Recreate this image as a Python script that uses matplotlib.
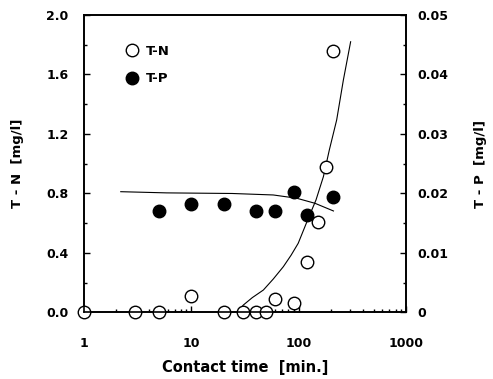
import matplotlib
matplotlib.use("Agg")
import matplotlib.pyplot as plt
from matplotlib.ticker import FixedLocator, MultipleLocator, NullFormatter, FixedFormatter
from matplotlib.lines import Line2D

plt.rcParams['font.family'] = ['DejaVu Sans']
plt.rcParams['font.weight'] = 'bold'

# data
tn_time = [1, 3, 5, 10, 20, 30, 40, 50, 60, 90, 120, 150, 180, 210]
tn_conc = [0.0, 0.0, 0.0, 0.11, 0.0, 0.0, 0.0, 0.0, 0.09, 0.066, 0.34, 0.61, 0.98, 1.76]

tp_time = [5, 10, 20, 40, 60, 90, 120, 210]
tp_conc = [0.0171, 0.0182, 0.0182, 0.0171, 0.0171, 0.0202, 0.0164, 0.0194]

# fitted curves
tn_fit_time = [27, 30.5, 37, 46.9, 58, 72, 85, 99, 123, 145, 170, 193, 226, 261, 305]
tn_fit_conc = [0.0, 0.05, 0.10, 0.151, 0.225, 0.308, 0.385, 0.465, 0.633, 0.756, 0.913, 1.092, 1.294, 1.563, 1.82]

tp_fit_time = [2.2, 5.9, 24, 58, 96, 142, 211]
tp_fit_conc = [0.0203, 0.0201, 0.0200, 0.01975, 0.0192, 0.01835, 0.01706]

fig = plt.figure(figsize=(4.93, 3.79), dpi=100)
ax = fig.add_axes([0.1704, 0.1755, 0.6531, 0.785])
ax2 = ax.twinx()

ax.set_xscale('log')
ax.set_xlim(1, 1000)
ax.set_ylim(0, 2.0)
ax2.set_ylim(0, 0.05)

ax.plot(tn_fit_time, tn_fit_conc, color='black', lw=0.8)
ax.plot(tn_time, tn_conc, linestyle='none', marker='o', markersize=9,
        markerfacecolor='white', markeredgecolor='black', markeredgewidth=1.0,
        clip_on=False, zorder=3)

ax2.plot(tp_fit_time, tp_fit_conc, color='black', lw=0.8)
ax2.plot(tp_time, tp_conc, linestyle='none', marker='o', markersize=9,
         markerfacecolor='black', markeredgecolor='black', clip_on=False, zorder=3)

# ticks
ax.yaxis.set_major_locator(FixedLocator([0, 0.4, 0.8, 1.2, 1.6, 2.0]))
ax.yaxis.set_major_formatter(FixedFormatter(["0.0", "0.4", "0.8", "1.2", "1.6", "2.0"]))
ax.yaxis.set_minor_locator(MultipleLocator(0.2))
ax2.yaxis.set_major_locator(FixedLocator([0, 0.01, 0.02, 0.03, 0.04, 0.05]))
ax2.yaxis.set_major_formatter(FixedFormatter(["0", "0.01", "0.02", "0.03", "0.04", "0.05"]))
ax2.yaxis.set_minor_locator(MultipleLocator(0.005))

ax.xaxis.set_major_locator(FixedLocator([1, 10, 100, 1000]))
ax.xaxis.set_major_formatter(FixedFormatter(["1", "10", "100", "1000"]))
ax.xaxis.set_minor_formatter(NullFormatter())

ax.tick_params(axis='both', which='both', direction='in', labelsize=9)
ax.tick_params(axis='y', which='both', right=False)
ax.tick_params(axis='x', which='both', top=False)
ax.tick_params(which='major', length=4, width=1)
ax.tick_params(which='minor', length=2.5, width=1)
ax.tick_params(axis='x', pad=18)
ax.tick_params(axis='y', pad=11)
ax2.tick_params(axis='y', which='both', direction='in', labelsize=9)
ax2.tick_params(which='major', length=4, width=1)
ax2.tick_params(which='minor', length=2.5, width=1)
ax2.tick_params(axis='y', pad=8)

for a in (ax, ax2):
    for s in a.spines.values():
        s.set_linewidth(1.2)

ax.set_xlabel("Contact time  [min.]", fontsize=10.5, fontweight='bold', labelpad=7)
ax.set_ylabel("T - N  [mg/l]", fontsize=9.5, fontweight='bold', labelpad=16)
ax2.set_ylabel("T - P  [mg/l]", fontsize=9.5, fontweight='bold', labelpad=19)

handles = [
    Line2D([], [], linestyle='none', marker='o', markersize=9, markerfacecolor='white',
           markeredgecolor='black'),
    Line2D([], [], linestyle='none', marker='o', markersize=9, markerfacecolor='black',
           markeredgecolor='black'),
]
leg = ax2.legend(handles, ["T-N", "T-P"], loc='upper left', bbox_to_anchor=(0.08, 0.94),
                 frameon=False, handletextpad=0.3, labelspacing=1.1,
                 handlelength=1.5, prop={'weight': 'bold', 'size': 9.5})

fig.savefig("out.png", dpi=100)
